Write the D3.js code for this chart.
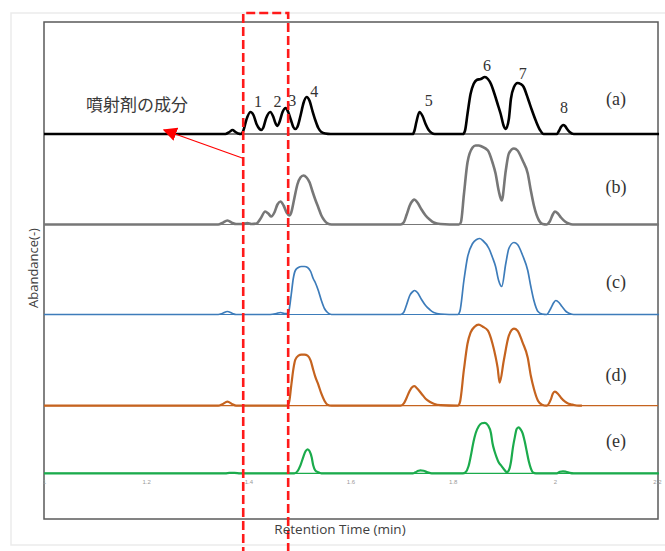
<!DOCTYPE html>
<html>
<head>
<meta charset="utf-8">
<script src="https://cdn.jsdelivr.net/npm/d3@7"></script>
<style>
  body { margin: 0; background: #fff; }
  .txt_peak { font-family: "Liberation Serif", "DejaVu Serif", serif; font-size: 16px; fill: #333; }
  .txt_panel { font-family: "Liberation Serif", "DejaVu Serif", serif; font-size: 18px; fill: #333; }
  .txt_axis { font-family: "Open Sans", "Liberation Sans", sans-serif; fill: #404040; }
  .txt_tick { font-family: "Liberation Sans", sans-serif; font-size: 6px; fill: #9a9a9a; }
</style>
</head>
<body>
<script>
/* 保持時間 (min) と強度 - 図から読み取り */
var timeA  = [1.000,1.306,1.355,1.363,1.369,1.375,1.380,1.386,1.390,1.396,1.404,1.410,1.416,1.422,1.425,1.429,1.435,1.443,1.449,1.453,1.457,1.461,1.467,1.473,1.478,1.484,1.488,1.492,1.496,1.502,1.508,1.514,1.520,1.525,1.531,1.537,1.543,1.551,1.561,1.708,1.722,1.725,1.729,1.735,1.741,1.747,1.753,1.759,1.765,1.820,1.824,1.829,1.835,1.841,1.847,1.855,1.863,1.869,1.875,1.880,1.888,1.894,1.900,1.904,1.910,1.914,1.920,1.927,1.933,1.939,1.945,1.949,1.955,1.963,1.971,1.978,2.004,2.008,2.012,2.016,2.020,2.024,2.029,2.037,2.204];
var abundA = [0,0,0,2,4,2,0.5,0,3,14,22,19,10,5,4,6,16,22,17,11,8,12,22,26,22,13,7,5,7,18,31,37,33,24,14,6,2,0.5,0,0,0,3,12,22,18,10,4,1,0,0,3,20,40,50,54,55,57,55,50,43,30,20,8,5,15,35,47,51,50,47,39,33,24,13,4,0,0,3,7,9,8,5,2,0,0];

var timeB  = [1.000,1.341,1.349,1.359,1.369,1.376,1.390,1.398,1.406,1.416,1.424,1.433,1.439,1.445,1.451,1.457,1.463,1.469,1.475,1.480,1.484,1.490,1.496,1.502,1.508,1.514,1.520,1.525,1.531,1.537,1.543,1.549,1.555,1.563,1.698,1.704,1.710,1.716,1.722,1.725,1.731,1.739,1.747,1.755,1.763,1.776,1.812,1.816,1.822,1.829,1.839,1.845,1.851,1.857,1.869,1.878,1.884,1.890,1.896,1.904,1.910,1.920,1.927,1.937,1.947,1.953,1.959,1.969,1.976,1.984,1.990,1.996,2.000,2.006,2.012,2.020,2.027,2.035,2.204];
var abundB = [0,0,1.5,4,1.5,0.5,0.5,1.5,0.5,1,6,13,11,8,12,20,23,19,12,9,12,26,40,47,49,47,42,34,25,17,9,4,1,0,0,2,10,19,24,25,22,15,9,5,2,0.5,0,2,30,62,77,79,79,78,74,62,51,34,24,54,71,76,74,64,51,34,19,4,0.5,0,3,10,13,11,7,3,1,0,0];

var timeC  = [1.000,1.341,1.349,1.359,1.369,1.376,1.443,1.455,1.463,1.471,1.478,1.480,1.484,1.488,1.492,1.498,1.504,1.510,1.516,1.522,1.527,1.531,1.537,1.543,1.549,1.555,1.563,1.698,1.704,1.710,1.716,1.722,1.725,1.731,1.739,1.747,1.755,1.763,1.776,1.810,1.814,1.822,1.829,1.839,1.847,1.853,1.859,1.871,1.878,1.884,1.890,1.896,1.904,1.910,1.920,1.927,1.937,1.947,1.953,1.959,1.967,1.975,1.984,1.992,1.998,2.002,2.008,2.014,2.022,2.029,2.037,2.204];
var abundC = [0,0,1,3,1,0,0,1,2,1,1,5,20,36,44,47,48,48,47,43,36,32,24,14,6,2,0,0,2,10,19,23,24,22,15,9,5,2,0.5,0,3,34,57,71,75,76,74,66,57,48,34,28,51,66,72,70,59,44,28,14,3,0.5,0,6,12,14,12,8,3,1,0,0];

var timeD  = [1.000,1.341,1.349,1.359,1.369,1.376,1.476,1.480,1.484,1.488,1.492,1.498,1.504,1.510,1.516,1.522,1.527,1.531,1.537,1.543,1.549,1.555,1.563,1.698,1.704,1.710,1.716,1.722,1.725,1.731,1.739,1.747,1.755,1.763,1.776,1.810,1.814,1.822,1.829,1.835,1.843,1.851,1.859,1.869,1.878,1.884,1.888,1.892,1.900,1.910,1.920,1.927,1.937,1.947,1.953,1.959,1.967,1.975,1.984,1.992,1.996,2.000,2.006,2.012,2.020,2.027,2.035,2.047,2.053];
var abundD = [0,0,1.5,4,1.5,0,0,4,20,36,46,50,51,51,50,45,36,29,21,12,5,1,0,0,2,8,15,19,19.5,17,12,7,4,2,0.5,0,3,36,62,73,79,81,79,75,62,49,38,23,45,70,77,75,63,48,30,17,5,1,0,6,12,14,12,8,4,2,1,0,0];

var timeE  = [1.000,1.355,1.363,1.373,1.384,1.490,1.496,1.502,1.508,1.512,1.516,1.520,1.524,1.527,1.531,1.537,1.543,1.722,1.727,1.733,1.737,1.743,1.751,1.759,1.820,1.825,1.831,1.835,1.841,1.845,1.851,1.857,1.863,1.869,1.875,1.878,1.882,1.886,1.890,1.896,1.902,1.906,1.910,1.914,1.918,1.922,1.925,1.929,1.933,1.937,1.941,1.945,1.949,1.953,1.957,1.963,2.004,2.010,2.016,2.022,2.029,2.037,2.204];
var abundE = [0,0,0.5,0.5,0,0,2,8,17,22,24,22,16,8,3,1,0,0,1,2.5,3,2.5,1,0,0,1,7,16,32,40,47,50,50.5,48,40,30,22,16,11,7,3,1,3,11,26,37,44,46,44,40,32,22,12,5,1,0,0,1.5,2,1.5,0.5,0,0];

var panelNames = ["(a)", "(b)", "(c)", "(d)", "(e)"];
var tickValues = [1, 1.2, 1.4, 1.6, 1.8, 2, 2.2];

/* ピーク番号 (保持時間, 高さ) */
var peakNames = ["1", "2", "3", "4", "5", "6", "7", "8"];
var peakTimes = [1.419, 1.457, 1.486, 1.529, 1.753, 1.867, 1.937, 2.018];
var peakLevel = [27, 27, 28, 37, 28.5, 63.5, 55.5, 21.5];

/* 噴射剤の範囲 (min) */
var sprayRange = [1.390, 1.478];

/* レイアウト */
var W = 665, H = 551;
var frame = { left: 44, top: 22, right: 658, bottom: 519 };
var panelBase = [134, 224.5, 314.5, 405.7, 473.3];
var panelLabelY = [104.5, 192.5, 287.5, 380.5, 446.5];
var colors = ["#000000", "#777777", "#3d7cba", "#c5631f", "#1bab4c"];
var widths = [2.6, 2.6, 1.7, 2.2, 2.2];

var traces = [
  { t: timeA, v: abundA },
  { t: timeB, v: abundB },
  { t: timeC, v: abundC },
  { t: timeD, v: abundD },
  { t: timeE, v: abundE }
];

var svgContainer = d3.select("body")
                    .append("svg")
                    .attr("width", W)
                    .attr("height", H);

var x = d3.scaleLinear().domain([1, 2.2]).range([frame.left, 657]);

function yScale(i) {
  return d3.scaleLinear().domain([0, 100]).range([panelBase[i], panelBase[i] - 100]);
}

/*枠*/
function drawFrame() {
  svgContainer.append("rect")
      .attr("x", 11).attr("y", 13)
      .attr("width", W).attr("height", 532)
      .attr("fill", "none")
      .attr("stroke", "#ebebeb")
      .attr("stroke-width", 1.5);

  svgContainer.append("rect")
      .attr("x", frame.left).attr("y", frame.top)
      .attr("width", frame.right - frame.left)
      .attr("height", frame.bottom - frame.top)
      .attr("fill", "none")
      .attr("stroke", "#5a5a5a")
      .attr("stroke-width", 1.5);

  // 各パネルの基線
  svgContainer.selectAll("line.base")
      .data(panelBase)
      .enter()
      .append("line")
      .attr("class", "base")
      .attr("x1", frame.left).attr("x2", frame.right)
      .attr("y1", function (d) { return d; })
      .attr("y2", function (d) { return d; })
      .attr("stroke", function (d, i) { return colors[i]; })
      .attr("stroke-width", 1.2);

  var axis = d3.axisBottom(x)
      .tickValues(tickValues)
      .tickSize(0)
      .tickPadding(0)
      .tickFormat(d3.format("~g"));

  var g = svgContainer.append("g")
      .attr("transform", "translate(0," + (panelBase[4] + 11) + ")")
      .call(axis);
  g.select(".domain").remove();
  g.selectAll("text").attr("class", "txt_tick").attr("dy", 0).attr("fill", null)
      .attr("font-size", null).attr("font-family", null);
}

/*クロマトグラム*/
function drawPath() {
  traces.forEach(function (tr, i) {
    var y = yScale(i);
    var pts = tr.t.map(function (t, k) { return [t, tr.v[k]]; });
    var line = d3.line()
        .x(function (d) { return x(d[0]); })
        .y(function (d) { return y(d[1]); })
        .curve(d3.curveMonotoneX);
    svgContainer.append("path")
        .datum(pts)
        .attr("d", line)
        .attr("fill", "none")
        .attr("stroke", colors[i])
        .attr("stroke-width", widths[i])
        .attr("stroke-linejoin", "round");
  });
}

/*テキスト*/
function drawText() {
  var yA = yScale(0);
  svgContainer.selectAll("text.peak")
      .data(peakNames)
      .enter()
      .append("text")
      .attr("class", "txt_peak")
      .attr("text-anchor", "middle")
      .attr("x", function (d, i) { return x(peakTimes[i]); })
      .attr("y", function (d, i) { return yA(peakLevel[i]); })
      .text(function (d) { return d; });

  svgContainer.selectAll("text.panel")
      .data(panelNames)
      .enter()
      .append("text")
      .attr("class", "txt_panel")
      .attr("text-anchor", "middle")
      .attr("x", 616)
      .attr("y", function (d, i) { return panelLabelY[i]; })
      .text(function (d) { return d; });

  svgContainer.append("text")
      .attr("class", "txt_axis")
      .attr("font-size", 13.5)
      .attr("text-anchor", "middle")
      .attr("x", 340).attr("y", 534)
      .text("Retention Time (min)");

  svgContainer.append("text")
      .attr("class", "txt_axis")
      .attr("font-size", 13)
      .attr("text-anchor", "middle")
      .attr("transform", "translate(38,268) rotate(-90)")
      .text("Abandance(-)");

  svgContainer.append("text")
      .attr("x", 86).attr("y", 111)
      .attr("font-family", "'Noto Sans CJK JP', sans-serif")
      .attr("font-size", 17)
      .attr("fill", "#3a3a3a")
      .text("噴射剤の成分");
}

/*噴射剤の範囲 + 矢印*/
function drawMark() {
  var xl = x(sprayRange[0]), xr = x(sprayRange[1]);
  svgContainer.append("path")
      .attr("d", "M" + xl + "," + (H + 5) + "V13H" + xr + "V" + (H + 5))
      .attr("fill", "none")
      .attr("stroke", "#ff1a1a")
      .attr("stroke-width", 2.6)
      .attr("stroke-dasharray", "9,4");

  svgContainer.append("defs").append("marker")
      .attr("id", "head")
      .attr("viewBox", "0 0 10 10")
      .attr("refX", 9).attr("refY", 5)
      .attr("markerWidth", 14).attr("markerHeight", 14)
      .attr("markerUnits", "userSpaceOnUse")
      .attr("orient", "auto")
      .append("path")
      .attr("d", "M0,0L10,5L0,10Z")
      .attr("fill", "#ff0000");

  svgContainer.append("line")
      .attr("x1", xl - 1).attr("y1", 158)
      .attr("x2", 164).attr("y2", 130)
      .attr("stroke", "#ff0000")
      .attr("stroke-width", 1.2)
      .attr("marker-end", "url(#head)");
}

/*시작*/
drawFrame();
drawPath();
drawMark();
drawText();
</script>
</body>
</html>
